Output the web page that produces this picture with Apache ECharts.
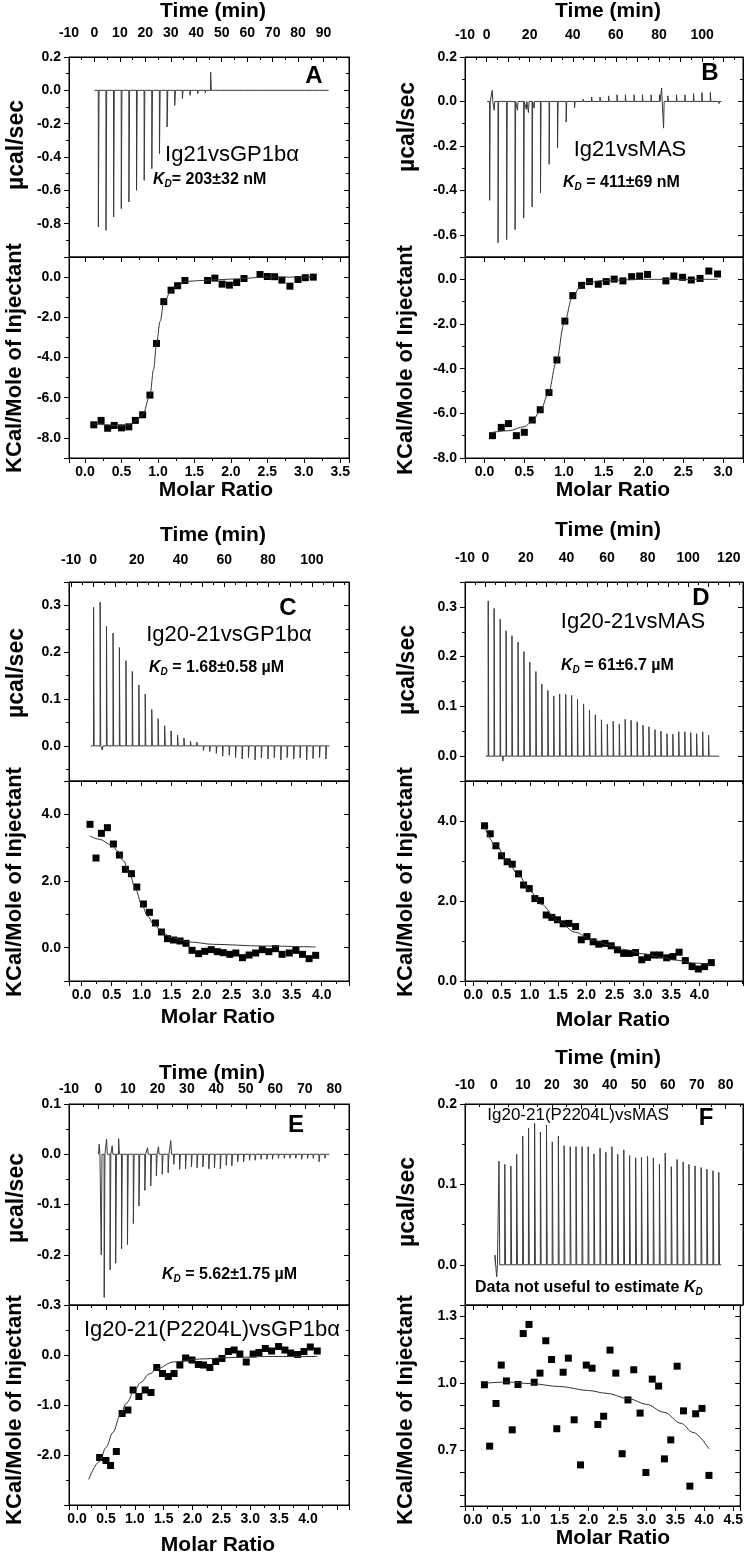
<!DOCTYPE html>
<html><head><meta charset="utf-8">
<script src="https://cdn.jsdelivr.net/npm/echarts@6/dist/echarts.min.js"></script>
<style>html,body{margin:0;padding:0;background:#fff}#c{width:746px;height:1554px}</style>
</head><body><div id="c"></div>
<script>
// ---------------- DATA ----------------
// Panel A: Ig21 vs GP1bα
const timeA = [1.5,4.5,7.5,10.5,13.5,16.5,19.5,22.5,25.5,28.5,31.5,34.5,37.5,40.5,43.5,46.5,49.5,52.5,55.5,58.5,61.5,64.5,67.5,70.5,73.5,76.5,79.5,82.5,85.5,88.5];
const peakA = [-0.82,-0.84,-0.76,-0.71,-0.67,-0.60,-0.54,-0.47,-0.38,-0.22,-0.09,-0.05,-0.03,-0.02,-0.015,-0.012,-0.012,-0.01,-0.012,-0.01,-0.012,-0.01,-0.01,-0.012,-0.01,-0.01,-0.012,-0.01,-0.01,-0.01];
const artA = [[45.6,0.11],[66.6,0.012]];
const heatA = [[0.12,-7.35],[0.22,-7.13],[0.31,-7.52],[0.40,-7.38],[0.50,-7.5],[0.60,-7.45],[0.69,-7.13],[0.79,-6.85],[0.89,-5.87],[0.98,-3.3],[1.08,-1.22],[1.18,-0.65],[1.27,-0.43],[1.37,-0.17],[1.68,-0.17],[1.78,-0.05],[1.88,-0.35],[1.98,-0.4],[2.08,-0.27],[2.18,-0.07],[2.40,0.13],[2.50,0.03],[2.60,0.02],[2.70,-0.15],[2.81,-0.45],[2.92,-0.12],[3.02,-0.03],[3.13,0.0]];
const fitA = [[0.12,-7.3],[0.3,-7.35],[0.5,-7.4],[0.6,-7.35],[0.7,-7.15],[0.79,-6.85],[0.89,-5.9],[0.94,-4.6],[0.98,-3.3],[1.03,-2.2],[1.08,-1.25],[1.18,-0.7],[1.27,-0.45],[1.37,-0.22],[1.68,-0.15],[2.0,-0.1],[2.5,0.0],[3.13,0.0]];
const timeTicksA = [-10,0,10,20,30,40,50,60,70,80,90];
const ucalTicksA = [0.2,0,-0.2,-0.4,-0.6,-0.8];
const heatTicksA = [0,-2,-4,-6,-8];
const ratioTicksA = [0,0.5,1,1.5,2,2.5,3,3.5];

// Panel B: Ig21 vs MAS
const timeB = [1.4,5.3,9.3,13.2,17.2,21.1,25.0,29.0,32.9,36.9,40.8,44.7,48.7,52.6,56.6,60.5,64.4,68.4,72.3,76.3,80.2,84.1,88.1,92.0,96.0,99.9,103.8,107.8];
const peakB = [-0.445,-0.636,-0.622,-0.577,-0.525,-0.475,-0.412,-0.283,-0.21,-0.093,-0.028,0.01,0.02,0.02,0.025,0.03,0.03,0.03,0.03,0.03,0.03,0.025,0.03,0.03,0.035,0.04,0.04,-0.01];
const artB = [[2.6,0.05],[3.5,-0.04],[14.3,-0.04],[18.4,-0.035],[19.4,-0.05],[22.0,-0.03],[81.2,0.06],[82.1,-0.12]];
const heatB = [[0.10,-7.0],[0.21,-6.63],[0.30,-6.46],[0.40,-7.0],[0.50,-6.85],[0.60,-6.3],[0.70,-5.84],[0.81,-5.07],[0.91,-3.61],[1.01,-1.87],[1.11,-0.73],[1.22,-0.27],[1.32,-0.1],[1.43,-0.22],[1.53,-0.1],[1.63,0.01],[1.74,-0.07],[1.85,0.12],[1.95,0.15],[2.05,0.22],[2.28,-0.07],[2.38,0.15],[2.49,0.09],[2.60,-0.03],[2.71,0.04],[2.82,0.37],[2.93,0.24]];
const fitB = [[0.1,-6.85],[0.3,-6.78],[0.5,-6.6],[0.6,-6.35],[0.7,-5.9],[0.8,-5.15],[0.9,-3.75],[1.0,-2.0],[1.1,-0.85],[1.2,-0.35],[1.3,-0.15],[1.5,-0.05],[2.0,0.0],[2.93,0.0]];
const timeTicksB = [-10,0,20,40,60,80,100];
const ucalTicksB = [0.2,0,-0.2,-0.4,-0.6];
const heatTicksB = [0,-2,-4,-6,-8];
const ratioTicksB = [0,0.5,1,1.5,2,2.5,3];

// Panel C: Ig20-21 vs GP1bα
const timeC = [0.2,3.2,6.1,9.1,12.0,15.0,17.9,20.9,23.8,26.8,29.7,32.7,35.6,38.6,41.5,44.5,47.4,50.4,53.3,56.3,59.2,62.2,65.1,68.1,71.0,74.0,76.9,79.9,82.8,85.8,88.7,91.7,94.6,97.6,100.5,103.5,106.4];
const peakC = [0.296,0.307,0.255,0.241,0.21,0.182,0.159,0.13,0.111,0.078,0.058,0.043,0.032,0.023,0.017,0.01,0.008,-0.01,-0.012,-0.016,-0.022,-0.02,-0.025,-0.028,-0.025,-0.03,-0.026,-0.028,-0.025,-0.03,-0.025,-0.028,-0.026,-0.03,-0.027,-0.025,-0.028];
const artC = [[4.2,-0.009]];
const heatC = [[0.14,3.70],[0.24,2.69],[0.33,3.43],[0.43,3.60],[0.53,3.11],[0.63,2.78],[0.73,2.35],[0.83,2.22],[0.92,1.82],[1.03,1.31],[1.13,1.06],[1.23,0.74],[1.33,0.47],[1.43,0.27],[1.53,0.23],[1.64,0.20],[1.74,0.13],[1.84,-0.08],[1.95,-0.18],[2.05,-0.11],[2.16,-0.06],[2.26,-0.12],[2.36,-0.15],[2.47,-0.20],[2.57,-0.16],[2.68,-0.30],[2.79,-0.22],[2.90,-0.16],[3.01,-0.06],[3.12,-0.12],[3.23,-0.03],[3.34,-0.20],[3.46,-0.16],[3.57,-0.08],[3.68,-0.20],[3.79,-0.33],[3.90,-0.23]];
const fitC = [[0.14,3.35],[0.3,3.25],[0.5,3.08],[0.6,2.9],[0.7,2.6],[0.8,2.2],[0.9,1.75],[1.0,1.3],[1.1,0.95],[1.2,0.7],[1.35,0.45],[1.5,0.3],[1.8,0.17],[2.2,0.1],[3.0,0.05],[3.9,0.02]];
const timeTicksC = [-10,0,20,40,60,80,100];
const ucalTicksC = [0.3,0.2,0.1,0];
const heatTicksC = [4,2,0];
const ratioTicksC = [0,0.5,1,1.5,2,2.5,3,3.5,4];

// Panel D: Ig20-21 vs MAS
const timeD = [1.4,4.3,7.3,10.2,13.1,16.1,19.0,21.9,24.9,27.8,30.8,33.7,36.6,39.6,42.5,45.4,48.4,51.3,54.2,57.2,60.1,63.0,66.0,68.9,71.8,74.8,77.7,80.6,83.6,86.5,89.5,92.4,95.3,98.3,101.2,104.1,107.1,110.0];
const peakD = [0.312,0.297,0.275,0.252,0.242,0.229,0.21,0.189,0.17,0.145,0.132,0.121,0.125,0.124,0.122,0.114,0.105,0.092,0.083,0.073,0.064,0.07,0.064,0.074,0.072,0.069,0.062,0.059,0.053,0.05,0.045,0.044,0.049,0.049,0.047,0.045,0.049,0.042];
const artD = [[8.6,-0.01]];
const heatD = [[0.20,3.88],[0.30,3.68],[0.40,3.38],[0.50,3.13],[0.60,2.98],[0.69,2.92],[0.80,2.68],[0.89,2.40],[0.99,2.31],[1.09,2.06],[1.19,2.01],[1.29,1.65],[1.39,1.59],[1.49,1.53],[1.59,1.43],[1.69,1.44],[1.81,1.36],[1.91,1.03],[2.01,1.11],[2.12,0.98],[2.22,0.92],[2.33,0.94],[2.44,0.88],[2.55,0.78],[2.66,0.69],[2.76,0.69],[2.87,0.71],[2.98,0.53],[3.08,0.59],[3.19,0.65],[3.30,0.65],[3.42,0.58],[3.53,0.61],[3.64,0.72],[3.75,0.51],[3.87,0.36],[3.98,0.30],[4.09,0.36],[4.21,0.46]];
const fitD = [[0.2,3.85],[0.4,3.4],[0.6,3.0],[0.8,2.65],[1.0,2.25],[1.2,1.92],[1.5,1.5],[1.8,1.22],[2.1,1.03],[2.4,0.9],[2.7,0.78],[3.0,0.68],[3.3,0.6],[3.6,0.52],[3.9,0.45],[4.21,0.4]];
const timeTicksD = [-10,0,20,40,60,80,100,120];
const ucalTicksD = [0.3,0.2,0.1,0];
const heatTicksD = [4,2,0];
const ratioTicksD = [0,0.5,1,1.5,2,2.5,3,3.5,4];

// Panel E: Ig20-21(P2204L) vs GP1bα
const timeE = [1.9,3.9,5.8,7.8,9.8,11.8,13.7,15.7,17.7,19.6,21.6,23.6,25.5,27.5,29.5,31.5,33.4,35.4,37.4,39.3,41.3,43.3,45.2,47.2,49.2,51.2,53.1,55.1,57.1,59.0,61.0,63.0,64.9,66.9,68.9,70.9,72.8,74.8,76.8];
const peakE = [-0.285,-0.23,-0.217,-0.188,-0.18,-0.138,-0.103,-0.072,-0.063,-0.043,-0.04,-0.037,-0.02,-0.03,-0.029,-0.025,-0.027,-0.025,-0.029,-0.027,-0.029,-0.022,-0.023,-0.015,-0.015,-0.012,-0.012,-0.01,-0.01,-0.01,-0.008,-0.008,-0.008,-0.008,-0.01,-0.008,-0.008,-0.015,-0.008];
const artE = [[0.2,0.02],[0.9,-0.2],[2.7,0.03],[4.6,0.017],[6.8,0.031],[16.6,0.013],[20.3,0.015],[24.5,0.027]];
const heatE = [[0.39,-2.05],[0.50,-2.11],[0.58,-2.21],[0.68,-1.93],[0.78,-1.17],[0.88,-1.10],[0.97,-0.70],[1.07,-0.83],[1.18,-0.70],[1.28,-0.75],[1.38,-0.25],[1.48,-0.37],[1.58,-0.43],[1.68,-0.37],[1.78,-0.20],[1.88,-0.06],[1.99,-0.10],[2.10,-0.19],[2.19,-0.20],[2.30,-0.25],[2.40,-0.13],[2.51,-0.07],[2.62,0.07],[2.72,0.10],[2.82,0.02],[2.93,-0.14],[3.05,0.02],[3.15,0.05],[3.26,0.13],[3.37,0.08],[3.49,0.17],[3.60,0.10],[3.70,0.04],[3.82,0.01],[3.93,0.07],[4.04,0.16],[4.16,0.08]];
const fitE = [[0.2,-2.49],[0.39,-2.13],[0.5,-1.85],[0.62,-1.55],[0.75,-1.2],[0.85,-0.97],[1.0,-0.7],[1.1,-0.55],[1.25,-0.38],[1.4,-0.27],[1.66,-0.14],[2.12,-0.08],[2.7,-0.05],[3.3,-0.03],[4.16,-0.03]];
const timeTicksE = [-10,0,10,20,30,40,50,60,70,80];
const ucalTicksE = [0.1,0,-0.1,-0.2,-0.3];
const heatTicksE = [0,-1,-2];
const ratioTicksE = [0,0.5,1,1.5,2,2.5,3,3.5,4];

// Panel F: Ig20-21(P2204L) vs MAS
const timeF = [1.7,3.7,5.8,7.8,9.9,11.9,14.0,16.0,18.1,20.1,22.2,24.2,26.3,28.3,30.4,32.5,34.5,36.6,38.6,40.7,42.7,44.8,46.8,48.9,50.9,53.0,55.0,57.1,59.1,61.2,63.2,65.3,67.3,69.4,71.5,73.5,75.6,77.6];
const peakF = [0.129,0.125,0.123,0.1375,0.160,0.170,0.176,0.165,0.174,0.153,0.160,0.148,0.147,0.147,0.147,0.147,0.138,0.145,0.140,0.147,0.1375,0.143,0.136,0.133,0.134,0.135,0.133,0.125,0.139,0.122,0.131,0.128,0.125,0.123,0.121,0.119,0.117,0.115];
const artF = [[0.3,0.012],[0.9,-0.015]];
const heatF = [[0.20,0.993],[0.29,0.718],[0.40,0.909],[0.49,1.081],[0.58,1.010],[0.68,0.791],[0.78,0.994],[0.87,1.222],[0.97,1.263],[1.06,1.004],[1.16,1.045],[1.26,1.19],[1.36,1.106],[1.45,0.796],[1.56,1.049],[1.65,1.112],[1.75,0.836],[1.86,0.634],[1.96,1.081],[2.06,1.067],[2.16,0.815],[2.26,0.852],[2.37,1.148],[2.47,1.045],[2.58,0.684],[2.68,0.925],[2.78,1.06],[2.89,0.866],[2.99,0.6],[3.10,1.018],[3.21,0.987],[3.31,0.661],[3.42,0.746],[3.53,1.076],[3.64,0.876],[3.75,0.539],[3.85,0.863],[3.96,0.887],[4.08,0.587]];
const fitF = [[0.2,1.0],[0.6,1.005],[1.0,0.998],[1.5,0.985],[2.0,0.967],[2.3,0.955],[2.7,0.93],[3.0,0.905],[3.3,0.87],[3.6,0.82],[3.8,0.78],[4.08,0.706]];
const timeTicksF = [-10,0,10,20,30,40,50,60,70,80];
const ucalTicksF = [0.2,0.1,0];
const heatTicksF = [1.3,1.0,0.7];
const ratioTicksF = [0,0.5,1,1.5,2,2.5,3,3.5,4,4.5];

// ---------------- LAYOUT (not data) ----------------
const FONT = "'Liberation Sans', Arial, Helvetica, sans-serif";
const panels = [
  {L:69, T:57, H1:200, H2:201, tr:[-10,100], tLm:17, trace:[0,92], time:timeA, peak:peakA, art:artA, yt:[-1.0,0.2], ytI:0.2, ytTicks:ucalTicksA, yb:[-9,1], ybI:2, ybTicks:heatTicksA, xr:[-0.22,3.62], xTicks:ratioTicksA, tTicks:timeTicksA, heat:heatA, fit:fitA, ybMinor:2},
  {L:465, T:57, H1:200, H2:201, tr:[-10,119], tLm:15, trace:[0.3,109], time:timeB, peak:peakB, art:artB, yt:[-0.7,0.2], ytI:0.2, ytTicks:ucalTicksB, yb:[-8,1], ybI:2, ybTicks:heatTicksB, xr:[-0.246,3.25], xTicks:ratioTicksB, tTicks:timeTicksB, heat:heatB, fit:fitB, ybMinor:2},
  {L:69, T:582, H1:199, H2:200, tr:[-11,117], tLm:15, trace:[-1,108], time:timeC, peak:peakC, art:artC, yt:[-0.075,0.35], ytI:0.1, ytTicks:ucalTicksC, yb:[-1,5], ybI:2, ybTicks:heatTicksC, xr:[-0.21,4.455], xTicks:ratioTicksC, tTicks:timeTicksC, heat:heatC, fit:fitC, ybMinor:2},
  {L:465, T:582, H1:199, H2:200, tr:[-10,127], tLm:17, trace:[0.3,115.3], time:timeD, peak:peakD, art:artD, yt:[-0.05,0.35], ytI:0.1, ytTicks:ucalTicksD, yb:[0,5], ybI:2, ybTicks:heatTicksD, xr:[-0.146,4.77], xTicks:ratioTicksD, tTicks:timeTicksD, heat:heatD, fit:fitD, ybMinor:2},
  {L:69, T:1104, H1:201, H2:200, tr:[-10,85], tLm:8, trace:[0,78.3], time:timeE, peak:peakE, art:artE, yt:[-0.3,0.1], ytI:0.1, ytTicks:ucalTicksE, yb:[-3,1], ybI:1, ybTicks:heatTicksE, xr:[-0.14,4.71], xTicks:ratioTicksE, tTicks:timeTicksE, heat:heatE, fit:fitE, ybMinor:2},
  {L:465, T:1104, H1:201, H2:201, tr:[-10,86], tLm:12, trace:[0.5,78.5], time:timeF, peak:peakF, art:artF, yt:[-0.05,0.2], ytI:0.1, ytTicks:ucalTicksF, yb:[0.45,1.35], ybI:0.1, ybTicks:heatTicksF, xr:[-0.136,4.62], xTicks:ratioTicksF, tTicks:timeTicksF, heat:heatF, fit:fitF, ybMinor:0}
];
const W = 280;

function pick(list, dec) {
  return function (v) {
    for (const L of list) if (Math.abs(v - L) < 1e-6) return L.toFixed(dec);
    return '';
  };
}
function buildTrace(start, end, times, peaks, arts) {
  const ev = times.map((t, i) => [t, peaks[i]]).concat(arts).sort((a, b) => a[0] - b[0]);
  const d = [[start, 0]];
  ev.forEach(function (e) { d.push([e[0], 0], [e[0] + 0.04, e[1]], [e[0] + 0.3, 0]); });
  d.push([end, 0]);
  return d;
}
const lab = {color:'#000', fontFamily:FONT, fontWeight:'bold', fontSize:14};
function axis(o) {
  return {
    type:'value', min:o.min, max:o.max, minInterval:o.iv, maxInterval:o.iv, splitNumber:5,
    position:o.pos, gridIndex:o.g,
    splitLine:{show:false},
    axisLine:{show:true, onZero:false, lineStyle:{color:'#000', width:1}},
    axisTick:{show:true, inside:o.inside, length:5, lineStyle:{color:'#000', width:1}},
    minorTick:{show:o.minor > 0, splitNumber:o.minor || 2, length:3, lineStyle:{color:'#000', width:1}},
    minorSplitLine:{show:false},
    axisLabel: o.labels ? Object.assign({show:true, margin:o.margin, formatter:pick(o.labels, o.dec), showMinLabel:true, showMaxLabel:true, hideOverlap:false}, lab) : {show:false},
    axisPointer:{show:false}
  };
}

const grid = [], xAxis = [], yAxis = [], series = [];
panels.forEach(function (p, i) {
  grid.push({left:p.L, top:p.T, width:W, height:p.H1, show:true, borderColor:'#000', borderWidth:1, containLabel:false});
  grid.push({left:p.L, top:p.T + p.H1, width:W, height:p.H2, show:true, borderColor:'#000', borderWidth:1, containLabel:false});
  const g1 = 2 * i, g2 = 2 * i + 1;
  xAxis.push(axis({min:p.tr[0], max:p.tr[1], iv:10, pos:'top', g:g1, inside:true, minor:2, labels:p.tTicks, dec:0, margin:p.tLm}));
  xAxis.push(axis({min:p.xr[0], max:p.xr[1], iv:0.5, pos:'bottom', g:g2, inside:false, minor:2, labels:p.xTicks, dec:1, margin:7}));
  xAxis.push(axis({min:p.xr[0], max:p.xr[1], iv:0.5, pos:'top', g:g2, inside:true, minor:2}));
  yAxis.push(axis({min:p.yt[0], max:p.yt[1], iv:p.ytI, pos:'left', g:g1, inside:false, minor:2, labels:p.ytTicks, dec:1, margin:8}));
  yAxis.push(axis({min:p.yt[0], max:p.yt[1], iv:p.ytI, pos:'right', g:g1, inside:true, minor:2}));
  yAxis.push(axis({min:p.yb[0], max:p.yb[1], iv:p.ybI, pos:'left', g:g2, inside:false, minor:p.ybMinor, labels:p.ybTicks, dec:1, margin:8}));
  yAxis.push(axis({min:p.yb[0], max:p.yb[1], iv:p.ybI, pos:'right', g:g2, inside:true, minor:p.ybMinor}));
  series.push({type:'line', xAxisIndex:3 * i, yAxisIndex:4 * i, data:buildTrace(p.trace[0], p.trace[1], p.time, p.peak, p.art), showSymbol:false, symbol:'none', lineStyle:{color:'#3a3a3a', width:1}, animation:false, silent:true});
  series.push({type:'line', xAxisIndex:3 * i + 1, yAxisIndex:4 * i + 2, data:p.fit, showSymbol:false, symbol:'none', smooth:0.35, smoothMonotone:'x', lineStyle:{color:'#333', width:1}, animation:false, silent:true});
  series.push({type:'scatter', xAxisIndex:3 * i + 1, yAxisIndex:4 * i + 2, data:p.heat, symbol:'rect', symbolSize:7, itemStyle:{color:'#000', opacity:1}, animation:false, silent:true});
});

// ---------------- TEXT ----------------
function txt(x, y, s, size, weight, align, rot) {
  return {type:'text', x:x, y:y, rotation:rot || 0, silent:true,
    style:{text:s, x:0, y:0, fill:'#000', fontFamily:FONT, fontSize:size, fontWeight:weight, align:align || 'center', verticalAlign:'middle', textAlign:align || 'center', textVerticalAlign:'middle'}};
}
const richKD = {
  k:{fill:'#000', fontFamily:FONT, fontSize:16, fontWeight:'bold', fontStyle:'italic'},
  d:{fill:'#000', fontFamily:FONT, fontSize:10, fontWeight:'bold', fontStyle:'italic', padding:[9,0,0,0]},
  n:{fill:'#000', fontFamily:FONT, fontSize:16, fontWeight:'bold'}
};
function kd(x, y, rest) {
  return {type:'text', x:x, y:y, silent:true,
    style:{text:'{k|K}{d|D}{n|' + rest + '}', x:0, y:0, align:'left', verticalAlign:'middle', textAlign:'left', textVerticalAlign:'middle', rich:richKD}};
}
const R = Math.PI / 2;
const graphic = [
  txt(213, 11, 'Time (min)', 21, 'bold'), txt(608, 11, 'Time (min)', 21, 'bold'),
  txt(213, 535, 'Time (min)', 21, 'bold'), txt(608, 530, 'Time (min)', 21, 'bold'),
  txt(212, 1073, 'Time (min)', 21, 'bold'), txt(608, 1058, 'Time (min)', 21, 'bold'),
  txt(216, 490, 'Molar Ratio', 21, 'bold'), txt(613, 490, 'Molar Ratio', 21, 'bold'),
  txt(218, 1017, 'Molar Ratio', 21, 'bold'), txt(613, 1020, 'Molar Ratio', 21, 'bold'),
  txt(218, 1545, 'Molar Ratio', 21, 'bold'), txt(613, 1538, 'Molar Ratio', 21, 'bold'),
  txt(17, 145, 'µcal/sec', 23, 'bold', 'center', R), txt(408, 127, 'µcal/sec', 23, 'bold', 'center', R),
  txt(17, 673, 'µcal/sec', 23, 'bold', 'center', R), txt(408, 670, 'µcal/sec', 23, 'bold', 'center', R),
  txt(17, 1198, 'µcal/sec', 23, 'bold', 'center', R), txt(408, 1202, 'µcal/sec', 23, 'bold', 'center', R),
  txt(15, 358, 'KCal/Mole of Injectant', 22, 'bold', 'center', R), txt(406, 360, 'KCal/Mole of Injectant', 22, 'bold', 'center', R),
  txt(15, 882, 'KCal/Mole of Injectant', 22, 'bold', 'center', R), txt(406, 882, 'KCal/Mole of Injectant', 22, 'bold', 'center', R),
  txt(15, 1410, 'KCal/Mole of Injectant', 22, 'bold', 'center', R), txt(406, 1410, 'KCal/Mole of Injectant', 22, 'bold', 'center', R),
  txt(314, 76, 'A', 24, 'bold'), txt(710, 73, 'B', 24, 'bold'), txt(288, 608, 'C', 24, 'bold'),
  txt(701, 598, 'D', 24, 'bold'), txt(296, 1125, 'E', 24, 'bold'), txt(706, 1118, 'F', 24, 'bold'),
  txt(232, 155, 'Ig21vsGP1bα', 22, 'normal'), txt(630, 150, 'Ig21vsMAS', 22, 'normal'),
  txt(229, 635, 'Ig20-21vsGP1bα', 22, 'normal'), txt(633, 622, 'Ig20-21vsMAS', 22, 'normal'),
  txt(212, 1330, 'Ig20-21(P2204L)vsGP1bα', 22, 'normal'), txt(578, 1115, 'Ig20-21(P2204L)vsMAS', 17, 'normal'),
  kd(153, 180, '= 203±32 nM'), kd(563, 183, ' = 411±69 nM'), kd(149, 668, ' = 1.68±0.58 µM'),
  kd(561, 666, ' = 61±6.7 µM'), kd(162, 1275, ' = 5.62±1.75 µM'),
  {type:'text', x:475, y:1288, silent:true,
    style:{text:'{n|Data not useful to estimate }{k|K}{d|D}', x:0, y:0, align:'left', verticalAlign:'middle', textAlign:'left', textVerticalAlign:'middle', rich:richKD}}
];

const chart = echarts.init(document.getElementById('c'), null, {renderer:'canvas'});
chart.setOption({animation:false, backgroundColor:'#fff', grid:grid, xAxis:xAxis, yAxis:yAxis, series:series, graphic:graphic, tooltip:{show:false}});
</script></body></html>
